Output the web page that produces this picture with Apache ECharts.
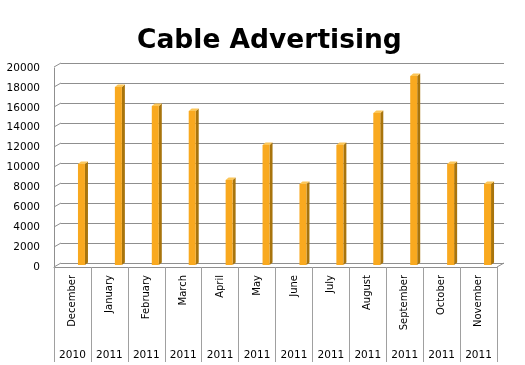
<!DOCTYPE html>
<html>
<head>
<meta charset="utf-8">
<script src="https://cdn.jsdelivr.net/npm/echarts@6/dist/echarts.min.js"></script>
<style>html,body{margin:0;padding:0;background:#fff}#c{width:525px;height:365px}</style>
</head>
<body>
<div id="c"></div>
<script>
var months = ['December','January','February','March','April','May','June','July','August','September','October','November'];
var years = ['2010','2011','2011','2011','2011','2011','2011','2011','2011','2011','2011','2011'];
var values = [10100, 17800, 15900, 15400, 8500, 12000, 8100, 12000, 15200, 18900, 10100, 8100];
var yTicks = [0,2000,4000,6000,8000,10000,12000,14000,16000,18000,20000];

var chart = echarts.init(document.getElementById('c'), null, {renderer:'canvas'});
var gridCol = '#8f8f8f';
var font = 'DejaVu Sans';

var diagData = yTicks.map(function(v){ return [0, v, 0]; });
diagData.push([0, 0, 1]);

chart.setOption({
  animation: false,
  backgroundColor: '#fff',
  title: {
    text: 'Cable Advertising', left: 137, top: 28, padding: 0,
    textStyle: {fontFamily: font, fontWeight: 'bold', fontSize: 26.5, color: '#000'}
  },
  grid: [
    {left: 54, right: 28, top: 68, bottom: 98, containLabel:false, outerBoundsMode:'none'},
    {left: 61, right: 21, top: 63, bottom: 102, containLabel:false, outerBoundsMode:'none'},
    {left: 63, right: 19, top: 65, bottom: 100, containLabel:false, outerBoundsMode:'none'}
  ],
  xAxis: [
    {type:'category', gridIndex:0, position:'bottom', offset:0, data: months, boundaryGap:true,
     axisLine:{show:true, lineStyle:{color:gridCol}},
     axisTick:{show:true, interval:0, length:95, inside:false, lineStyle:{color:'#a0a0a0'}},
     axisLabel:{interval:0, rotate:90, margin:8, fontFamily:font, fontSize:10, color:'#000'}},
    {type:'category', gridIndex:0, position:'bottom', offset:0, data: months, boundaryGap:true,
     axisLine:{show:false}, axisTick:{show:false},
     axisLabel:{interval:0, margin:83, fontFamily:font, fontSize:10.5, color:'#000',
       formatter:function(v,i){return years[i];}}},
    {type:'category', gridIndex:1, data: months, show:false},
    {type:'category', gridIndex:2, data: months, show:false}
  ],
  yAxis: [
    {type:'value', gridIndex:0, min:0, max:20000, interval:2000,
     axisLine:{show:true, lineStyle:{color:gridCol}}, axisTick:{show:false}, splitLine:{show:false},
     axisLabel:{margin:14, fontFamily:font, fontSize:10.5, color:'#000',
       formatter:function(v){return String(v);}}},
    {type:'value', gridIndex:1, min:0, max:20000, interval:2000,
     axisLine:{show:false}, axisTick:{show:false}, axisLabel:{show:false},
     splitLine:{show:true, lineStyle:{color:gridCol, width:1}}},
    {type:'value', gridIndex:2, min:0, max:20000, interval:2000, show:false, splitLine:{show:false}}
  ],
  series: [
    {
      type:'custom', xAxisIndex:2, yAxisIndex:1, data: diagData, silent:true,
      renderItem: function(params, api){
        var cs = params.coordSys;
        var y = api.coord([0, api.value(1)])[1];
        var xEnd = api.value(2) ? cs.x + cs.width : cs.x;
        return {type:'line', shape:{x1:xEnd-7, y1:y+4, x2:xEnd, y2:y},
                style:{stroke:gridCol, lineWidth:1}};
      }
    },
    {
      type:'custom', xAxisIndex:3, yAxisIndex:2, silent:true,
      data: values.map(function(v,i){return [i, v];}),
      renderItem: function(params, api){
        var c = api.coord([api.value(0), api.value(1)]);
        var b = api.coord([api.value(0), 0]);
        var hw = 3.5, sd = 3, up = 2.5;
        return {type:'group', children:[
          {type:'polygon', shape:{points:[[c[0]+hw,c[1]],[c[0]+hw+sd,c[1]-up],[c[0]+hw+sd,b[1]-up],[c[0]+hw,b[1]]]},
           style:{fill:'#a8740c'}},
          {type:'polygon', shape:{points:[[c[0]-hw,c[1]],[c[0]+hw,c[1]],[c[0]+hw+sd,c[1]-up],[c[0]-hw+sd,c[1]-up]]},
           style:{fill:'#fcc658'}},
          {type:'rect', shape:{x:c[0]-hw, y:c[1], width:2*hw, height:b[1]-c[1]},
           style:{fill:'#f9a91f'}}
        ]};
      }
    }
  ]
});
</script>
</body>
</html>
